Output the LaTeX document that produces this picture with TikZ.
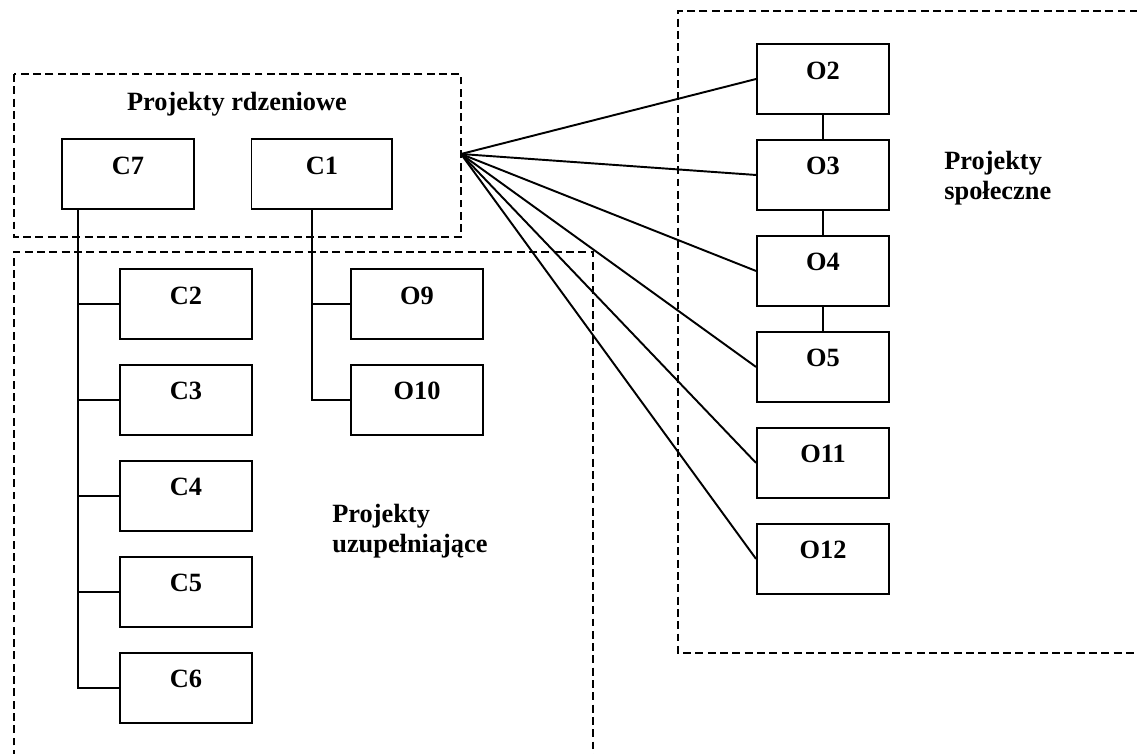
\documentclass[tikz,border=0pt]{standalone}
\usepackage{fontspec}
\setmainfont{Liberation Serif}
\usetikzlibrary{positioning}

\begin{document}
\begin{tikzpicture}[x=0.02cm, y=-0.02cm, node distance=1.92cm,
        box/.style={draw, line width=1.1pt, minimum width=2.64cm, inner sep=0pt,
                    text height=0.7cm, text depth=0.7cm, font=\fontsize{15}{18}\selectfont\bfseries},
        area/.style={draw, line width=1.1pt, dash pattern=on 4.5pt off 2.5pt},
        lbl/.style={inner sep=0pt, align=left, font=\fontsize{15}{17}\selectfont\bfseries},
        line/.style={line width=1.1pt}]
        \useasboundingbox (0,0) rectangle (1137,754);

        % dashed groups
        \draw[area] (14,74) rectangle (461,237);
        \draw[area] (14,770) -- (14,252) -- (593,252) -- (593,770);
        \draw[area] (1150,11) -- (678,11) -- (678,653) -- (1150,653);

        \node[lbl, anchor=base] (core) at (237,110) {Projekty rdzeniowe};
        \node[lbl, anchor=north west] (supp) at (332,504) {Projekty\\uzupełniające};
        \node[lbl, anchor=north west] (soc) at (944,151) {Projekty\\społeczne};

        % core projects
        \node[box] (c7) at (128,174) {C7};
        \node[box, minimum width=2.82cm] (c1) [right of=c7, node distance=3.88cm] {C1};

        % complementary projects
        \node[box] (c2) at (186,304) {C2};
        \node[box] (c3) [below of=c2] {C3};
        \node[box] (c4) [below of=c3] {C4};
        \node[box] (c5) [below of=c4] {C5};
        \node[box] (c6) [below of=c5] {C6};
        \node[box] (o9) at (417,304) {O9};
        \node[box] (o10) [below of=o9] {O10};

        % social projects
        \node[box] (o2) at (823,79) {O2};
        \node[box] (o3) [below of=o2] {O3};
        \node[box] (o4) [below of=o3] {O4};
        \node[box] (o5) [below of=o4] {O5};
        \node[box] (o11) [below of=o5] {O11};
        \node[box] (o12) [below of=o11] {O12};

        \coordinate (t7) at (78,209);
        \coordinate (t1) at (312,209);
        \coordinate (hub) at (461,154);

        \draw[line] (t7) |- (c6.west);
        \foreach \c in {c2,c3,c4,c5}
            \draw[line] (t7 |- \c.west) -- (\c.west);
        \draw[line] (t1) |- (o10.west);
        \draw[line] (t1 |- o9.west) -- (o9.west);

        \path[line] (o2) edge (o3)
                    (o3) edge (o4)
                    (o4) edge (o5);
        \foreach \o in {o2,o3,o4,o5,o11,o12}
            \draw[line] (hub) -- (\o.west);
    \end{tikzpicture}
\end{document}
